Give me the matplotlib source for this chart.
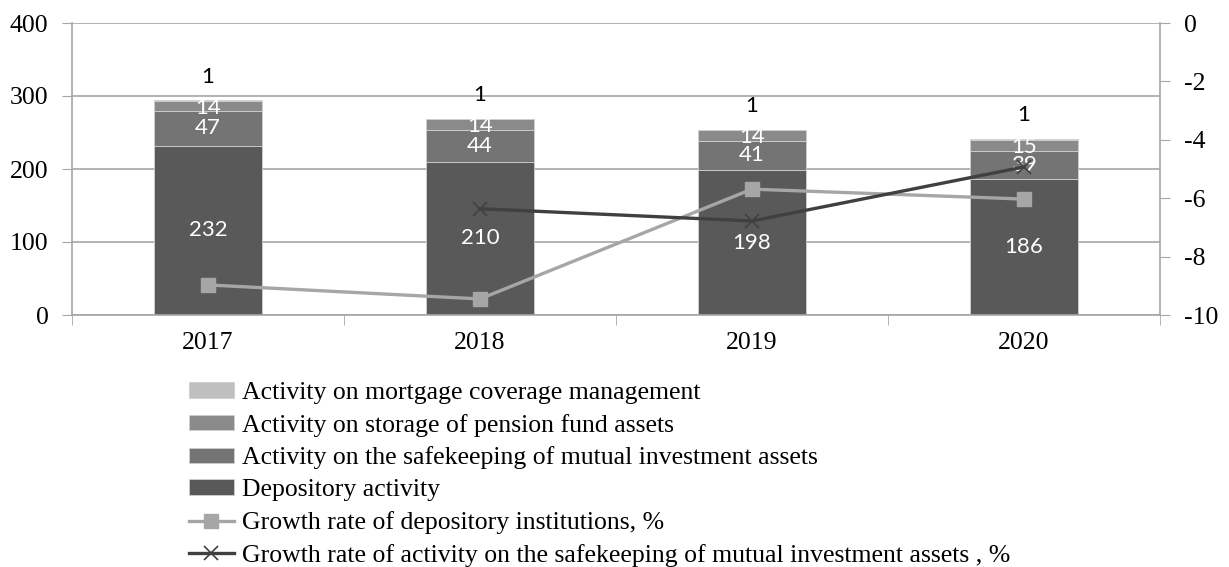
import matplotlib
matplotlib.use("Agg")
import matplotlib.pyplot as plt
import numpy as np

plt.rcParams['axes.unicode_minus'] = False

years = ["2017", "2018", "2019", "2020"]
depository = [232, 210, 198, 186]
mutual = [47, 44, 41, 39]
pension = [14, 14, 14, 15]
mortgage = [1, 1, 1, 1]
growth_depository = [-8.97, -9.45, -5.69, -6.03]
growth_mutual = [np.nan, -6.36, -6.78, -4.93]

labels = ["Activity on mortgage coverage management",
          "Activity on storage of pension fund assets",
          "Activity on the safekeeping of mutual investment assets",
          "Depository activity",
          "Growth rate of depository institutions, %",
          "Growth rate of activity on the safekeeping of mutual investment assets , %"]

c_dep = "#595959"
c_mut = "#747474"
c_pen = "#8a8a8a"
c_mor = "#bfbfbf"
c_l1 = "#a6a6a6"
c_l2 = "#404040"
grid_c = "#a6a6a6"

FS = 18.5

fig = plt.figure(figsize=(12.29, 5.67), dpi=100)
ax = fig.add_axes([72/1229, 1-315/567, (1160-72)/1229, (315-23)/567])
x = np.arange(len(years))
w = 0.4

dep = np.array(depository, float)
mut = np.array(mutual, float)
pen = np.array(pension, float)
mor = np.array(mortgage, float)

ec = "#cfcfcf"
b_dep = ax.bar(x, dep, w, color=c_dep, edgecolor=ec, linewidth=0.6, zorder=2)
b_mut = ax.bar(x, mut, w, bottom=dep, color=c_mut, edgecolor=ec, linewidth=0.6, zorder=2)
b_pen = ax.bar(x, pen, w, bottom=dep+mut, color=c_pen, edgecolor=ec, linewidth=0.6, zorder=2)
b_mor = ax.bar(x, mor, w, bottom=dep+mut+pen, color=c_mor, edgecolor=ec, linewidth=0.6, zorder=2)

lab_font = dict(family="Lato", fontsize=16)
for i in range(len(x)):
    ax.text(x[i], dep[i]/2, str(depository[i]), ha='center', va='center', color='white', zorder=5, **lab_font)
    ax.text(x[i], dep[i]+mut[i]/2, str(mutual[i]), ha='center', va='center', color='white', zorder=5, **lab_font)
    ax.text(x[i], dep[i]+mut[i]+pen[i]/2 - 2, str(pension[i]), ha='center', va='center', color='white', zorder=5, **lab_font)
    tot = dep[i]+mut[i]+pen[i]+mor[i]
    ax.annotate(str(mortgage[i]), (x[i], tot), xytext=(0, 17), textcoords='offset points',
                ha='center', va='center', color='black', zorder=5, **lab_font)

ax.set_xlim(-0.5, len(x)-0.5)
ax.set_ylim(0, 400)
ax.set_yticks([0, 100, 200, 300, 400])
ax.set_xticks(x)
ax.set_xticklabels(years)
ax.set_xticks(np.arange(len(x)+1)-0.5, minor=True)
ax.tick_params(axis='x', which='major', length=0, pad=12)
ax.tick_params(axis='x', which='minor', length=7, color=grid_c, direction='out')
ax.tick_params(axis='y', length=7, color=grid_c, direction='out', pad=10)
ax.yaxis.grid(True, color=grid_c, linewidth=1.2)
ax.set_axisbelow(True)
for s in ['top', 'right']:
    ax.spines[s].set_visible(False)
for s in ['left', 'bottom']:
    ax.spines[s].set_color(grid_c)
    ax.spines[s].set_linewidth(1.2)
for t in ax.get_xticklabels() + ax.get_yticklabels():
    t.set_family("Liberation Serif")
    t.set_fontsize(FS)

ax2 = ax.twinx()
ax2.set_ylim(-10, 0)
ax2.set_yticks([0, -2, -4, -6, -8, -10])
ax2.tick_params(axis='y', length=7, color=grid_c, direction='out', pad=10)
for s in ['top', 'left', 'bottom']:
    ax2.spines[s].set_visible(False)
ax2.spines['right'].set_color(grid_c)
ax2.spines['right'].set_linewidth(1.2)
for t in ax2.get_yticklabels():
    t.set_family("Liberation Serif")
    t.set_fontsize(FS)

l1, = ax2.plot(x, growth_depository, color=c_l1, linewidth=2.4, marker='s', markersize=10, zorder=4)
l2, = ax2.plot(x, growth_mutual, color=c_l2, linewidth=2.4, marker='x', markersize=10, markeredgewidth=1.2, zorder=4)

handles = [b_mor, b_pen, b_mut, b_dep, l1, l2]
leg = fig.legend(handles, labels, loc='upper left', bbox_to_anchor=(189/1229, 1-382/567),
                 frameon=False, prop={'family': 'Liberation Serif', 'size': FS},
                 handlelength=1.75, handleheight=0.55, handletextpad=0.3, labelspacing=0.38,
                 borderaxespad=0, borderpad=0)

fig.savefig("out.png", dpi=100)
